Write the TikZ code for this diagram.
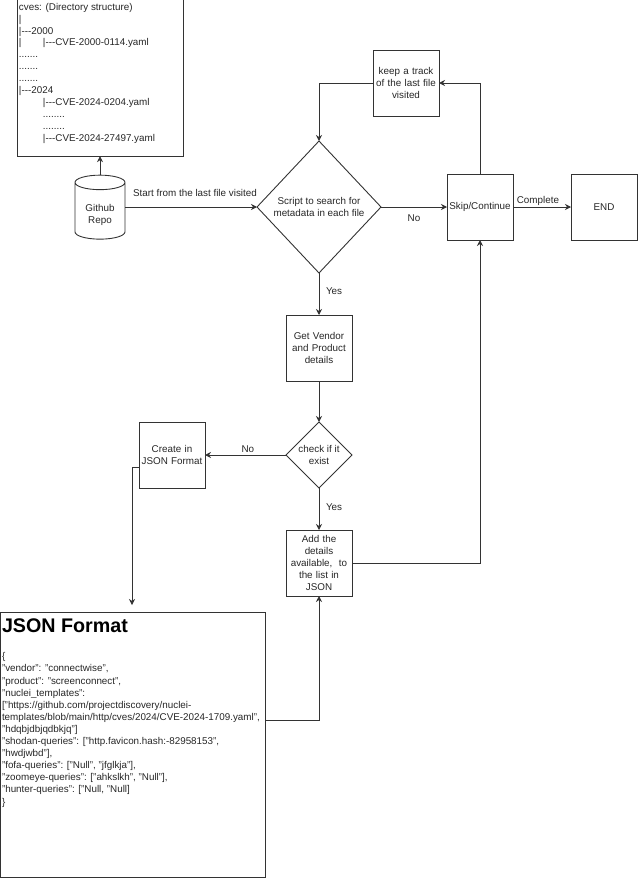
\documentclass[tikz,border=0pt]{standalone}
\usepackage{fontspec}
\setmainfont{Liberation Sans}
\usetikzlibrary{shapes,arrows.meta,positioning}

\newcommand{\cveindent}{\hspace*{24pt}}

\begin{document}
\begin{tikzpicture}[x=1pt, y=1pt, node distance=40pt, auto,
    every node/.style={font=\fontsize{9.85}{11.9}\selectfont, text=black!85, outer sep=0pt},
    block/.style={rectangle, draw=black!80, line width=0.9pt, text width=64pt, inner sep=1pt, align=center, minimum width=66pt, minimum height=66pt},
    decision/.style={diamond, draw=black!80, line width=0.9pt, inner sep=0pt, align=center},
    listbox/.style={rectangle, draw=black!80, line width=0.9pt, inner sep=2pt},
    store/.style={cylinder, shape border rotate=90, shape aspect=0.5, draw=black!80, line width=0.9pt, inner sep=0pt, align=center, minimum width=50pt, minimum height=64pt},
    edgetext/.style={inner sep=0pt},
    arrow/.style={-{Stealth[length=6pt, width=6pt]}, draw=black!80, line width=0.9pt}]

    \useasboundingbox (0,0) rectangle (638,-878);

    \node[decision, minimum width=124pt, minimum height=132pt] (script) at (319,-207) {Script to search for\\metadata in each file};
    \node[store, left=132pt of script, yshift=-4pt] (repo) {\\[4pt]Github\\Repo};
    \node[listbox, above=19pt of repo] (dirs) {\parbox[c][153pt][t]{162pt}{%
        \vspace*{2pt}cves: (Directory structure)\\
        |\\
        |{-}{-}{-}2000\\
        \makebox[24pt][l]{|}|{-}{-}{-}CVE-2000-0114.yaml\\
        .......\\
        .......\\
        .......\\
        |{-}{-}{-}2024\\
        \cveindent|{-}{-}{-}CVE-2024-0204.yaml\\
        \cveindent........\\
        \cveindent........\\
        \cveindent|{-}{-}{-}CVE-2024-27497.yaml}};
    \node[block, right=66pt of script] (skip) {Skip/Continue};
    \node[block, right=58pt of skip] (end) {END};
    \node[block, above=58pt of skip, xshift=-74pt] (track) {keep a track\\of the last file\\visited};
    \node[block, below=42pt of script] (vendor) {Get Vendor\\and Product\\details};
    \node[decision, below=41pt of vendor, minimum width=66pt, minimum height=66pt] (check) {check if it\\exist};
    \node[block, left=81pt of check] (create) {Create in\\JSON Format};
    \node[block, below=42pt of check] (add) {Add the\\details\\available,~ to\\the list in\\JSON};
    \node[listbox, below=16pt of add, xshift=-186.5pt] (json) {\parbox[c][261pt][t]{261pt}{%
        \fontsize{9.85}{12.1}\selectfont
        \vspace*{5pt}{\fontsize{19.7}{24}\selectfont\bfseries\color{black} JSON Format}\\[15pt]
        \{\\
        "vendor": "connectwise",\\
        "product": "screenconnect",\\
        "nuclei\_templates":\\
        {[}"https://github.com/projectdiscovery/nuclei-\\
        templates/blob/main/http/cves/2024/CVE-2024-1709.yaml",\\
        "hdqbjdbjqdbkjq"]\\
        "shodan-queries": ["http.favicon.hash:-82958153",\\
        "hwdjwbd"],\\
        "fofa-queries": ["Null", "jfglkja"],\\
        "zoomeye-queries": ["ahkslkh", "Null"],\\
        "hunter-queries": ["Null, "Null]\\
        \}}};
    \coordinate (jsonin) at (132,-605);

    \draw[arrow] (repo) -- (dirs);
    \draw[arrow] (repo.east |- script) -- node[edgetext, pos=.53, above=10pt] (startlabel) {Start from the last file visited} (script);
    \draw[arrow] (script) -- node[edgetext, swap, below=7.5pt] (nolabel) {No} (skip);
    \draw[arrow] (skip) |- (track);
    \draw[arrow] (track) -| (script);
    \draw[arrow] (skip) -- node[edgetext, pos=.43, above=1pt] (donelabel) {Complete} (end);
    \draw[arrow] (script) -- node[edgetext, pos=.43, right=7pt] (yeslabel) {Yes} (vendor);
    \draw[arrow] (vendor) -- (check);
    \draw[arrow] (check) -- node[edgetext, pos=.47, above=2pt] (misslabel) {No} (create);
    \draw[arrow] (check) -- node[edgetext, pos=.45, right=7pt] (foundlabel) {Yes} (add);
    \draw[arrow] (add) -| (skip);
    \draw[arrow] ([yshift=-12pt]create.west) -| (jsonin);
    \draw[arrow] ([yshift=24pt]json.east) -| (add);
\end{tikzpicture}
\end{document}
